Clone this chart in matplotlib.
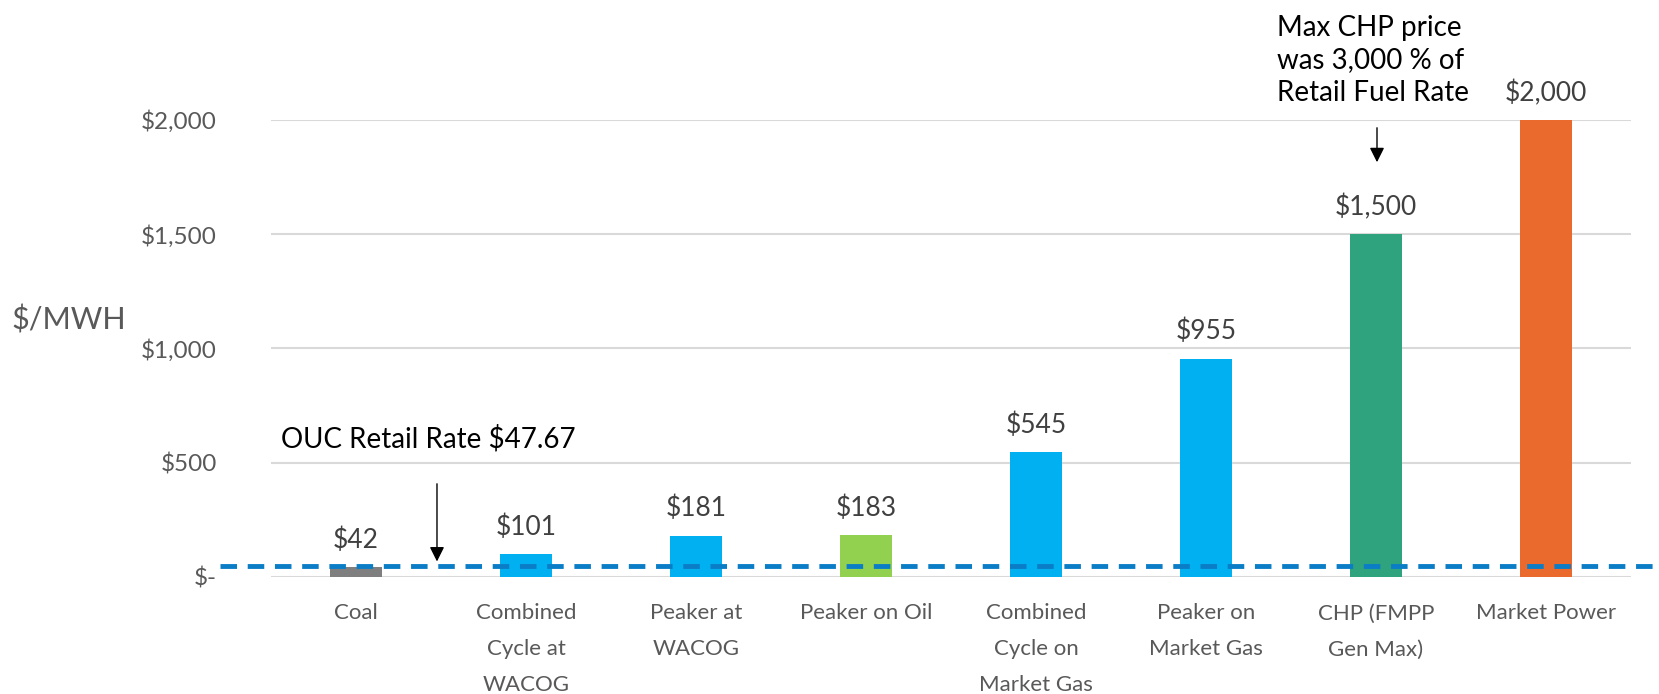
import matplotlib
matplotlib.use("Agg")
import matplotlib.pyplot as plt
import matplotlib.transforms as mtransforms
from matplotlib.patches import FancyArrowPatch

plt.rcParams['font.family'] = ['Lato', 'DejaVu Sans']

categories = ["Coal", "Combined\nCycle at\nWACOG", "Peaker at\nWACOG", "Peaker on Oil",
              "Combined\nCycle on\nMarket Gas", "Peaker on\nMarket Gas", "CHP (FMPP\nGen Max)",
              "Market Power"]
values = [42, 101, 181, 183, 545, 955, 1500, 2000]
bar_colors = ["#7F7F7F", "#00B0F0", "#00B0F0", "#92D050", "#00B0F0", "#00B0F0", "#2EA37E", "#E96A2C"]
retail_rate = 47.67
yticks = [0, 500, 1000, 1500, 2000]

fig = plt.figure(figsize=(16.59, 6.94), dpi=100)
ax = fig.add_axes([0.1634, 0.1686, 0.8197, 0.6585])

x = list(range(len(categories)))
ax.bar(x, values, width=0.31, color=bar_colors, zorder=2)
ax.set_xlim(-0.5, len(categories) - 0.5)
ax.set_ylim(0, 2000)
ax.set_yticks(yticks)
ax.set_yticklabels(["$-" if v == 0 else "${:,.0f}".format(v) for v in yticks])
ax.grid(axis='y', color='#D9D9D9', linewidth=1.5, zorder=0)
ax.set_axisbelow(True)
for s in ax.spines.values():
    s.set_visible(False)
ax.tick_params(axis='y', length=0, pad=39, labelsize=17.5, labelcolor='#595959')
ax.set_xticks(x)
ax.set_xticklabels(categories, linespacing=2.0)
ax.tick_params(axis='x', length=0, pad=19, labelsize=16, labelcolor='#595959')

for xi, v in zip(x, values):
    ax.annotate("${:,.0f}".format(v), (xi, v), xytext=(0, 19.5), textcoords='offset points',
                ha='center', va='center', fontsize=19, color='#404040')

# retail rate dashed line spanning beyond axes
trans = mtransforms.blended_transform_factory(ax.transAxes, ax.transData)
ax.plot([-0.0375, 1.02], [retail_rate, retail_rate], transform=trans, clip_on=False,
        color='#0A7DC6', linewidth=3.5, linestyle=(0, (3.4, 2.2)), zorder=5)

ax.text(0.0075, 0.302, "OUC Retail Rate $47.67", transform=ax.transAxes, fontsize=20,
        color='black', ha='left', va='center')
ax.annotate("", xy=(0.122, retail_rate + 8), xycoords=trans,
            xytext=(0.122, 0.21), textcoords=ax.transAxes,
            arrowprops=dict(arrowstyle='-|>', color='black', lw=1, mutation_scale=22))

fig.text(0.770, 0.913, "Max CHP price\nwas 3,000 % of\nRetail Fuel Rate", fontsize=20,
         color='black', ha='left', va='center', linespacing=1.32)
fig.add_artist(FancyArrowPatch((1377 / 1659, 1 - 125 / 694), (1377 / 1659, 1 - 165 / 694),
               transform=fig.transFigure, arrowstyle='-|>', color='black', lw=1, mutation_scale=22))

fig.text(11 / 1659, 1 - 320 / 694, "$/MWH", fontsize=22, color='#595959', ha='left', va='center')

fig.savefig("out.png", dpi=100)
